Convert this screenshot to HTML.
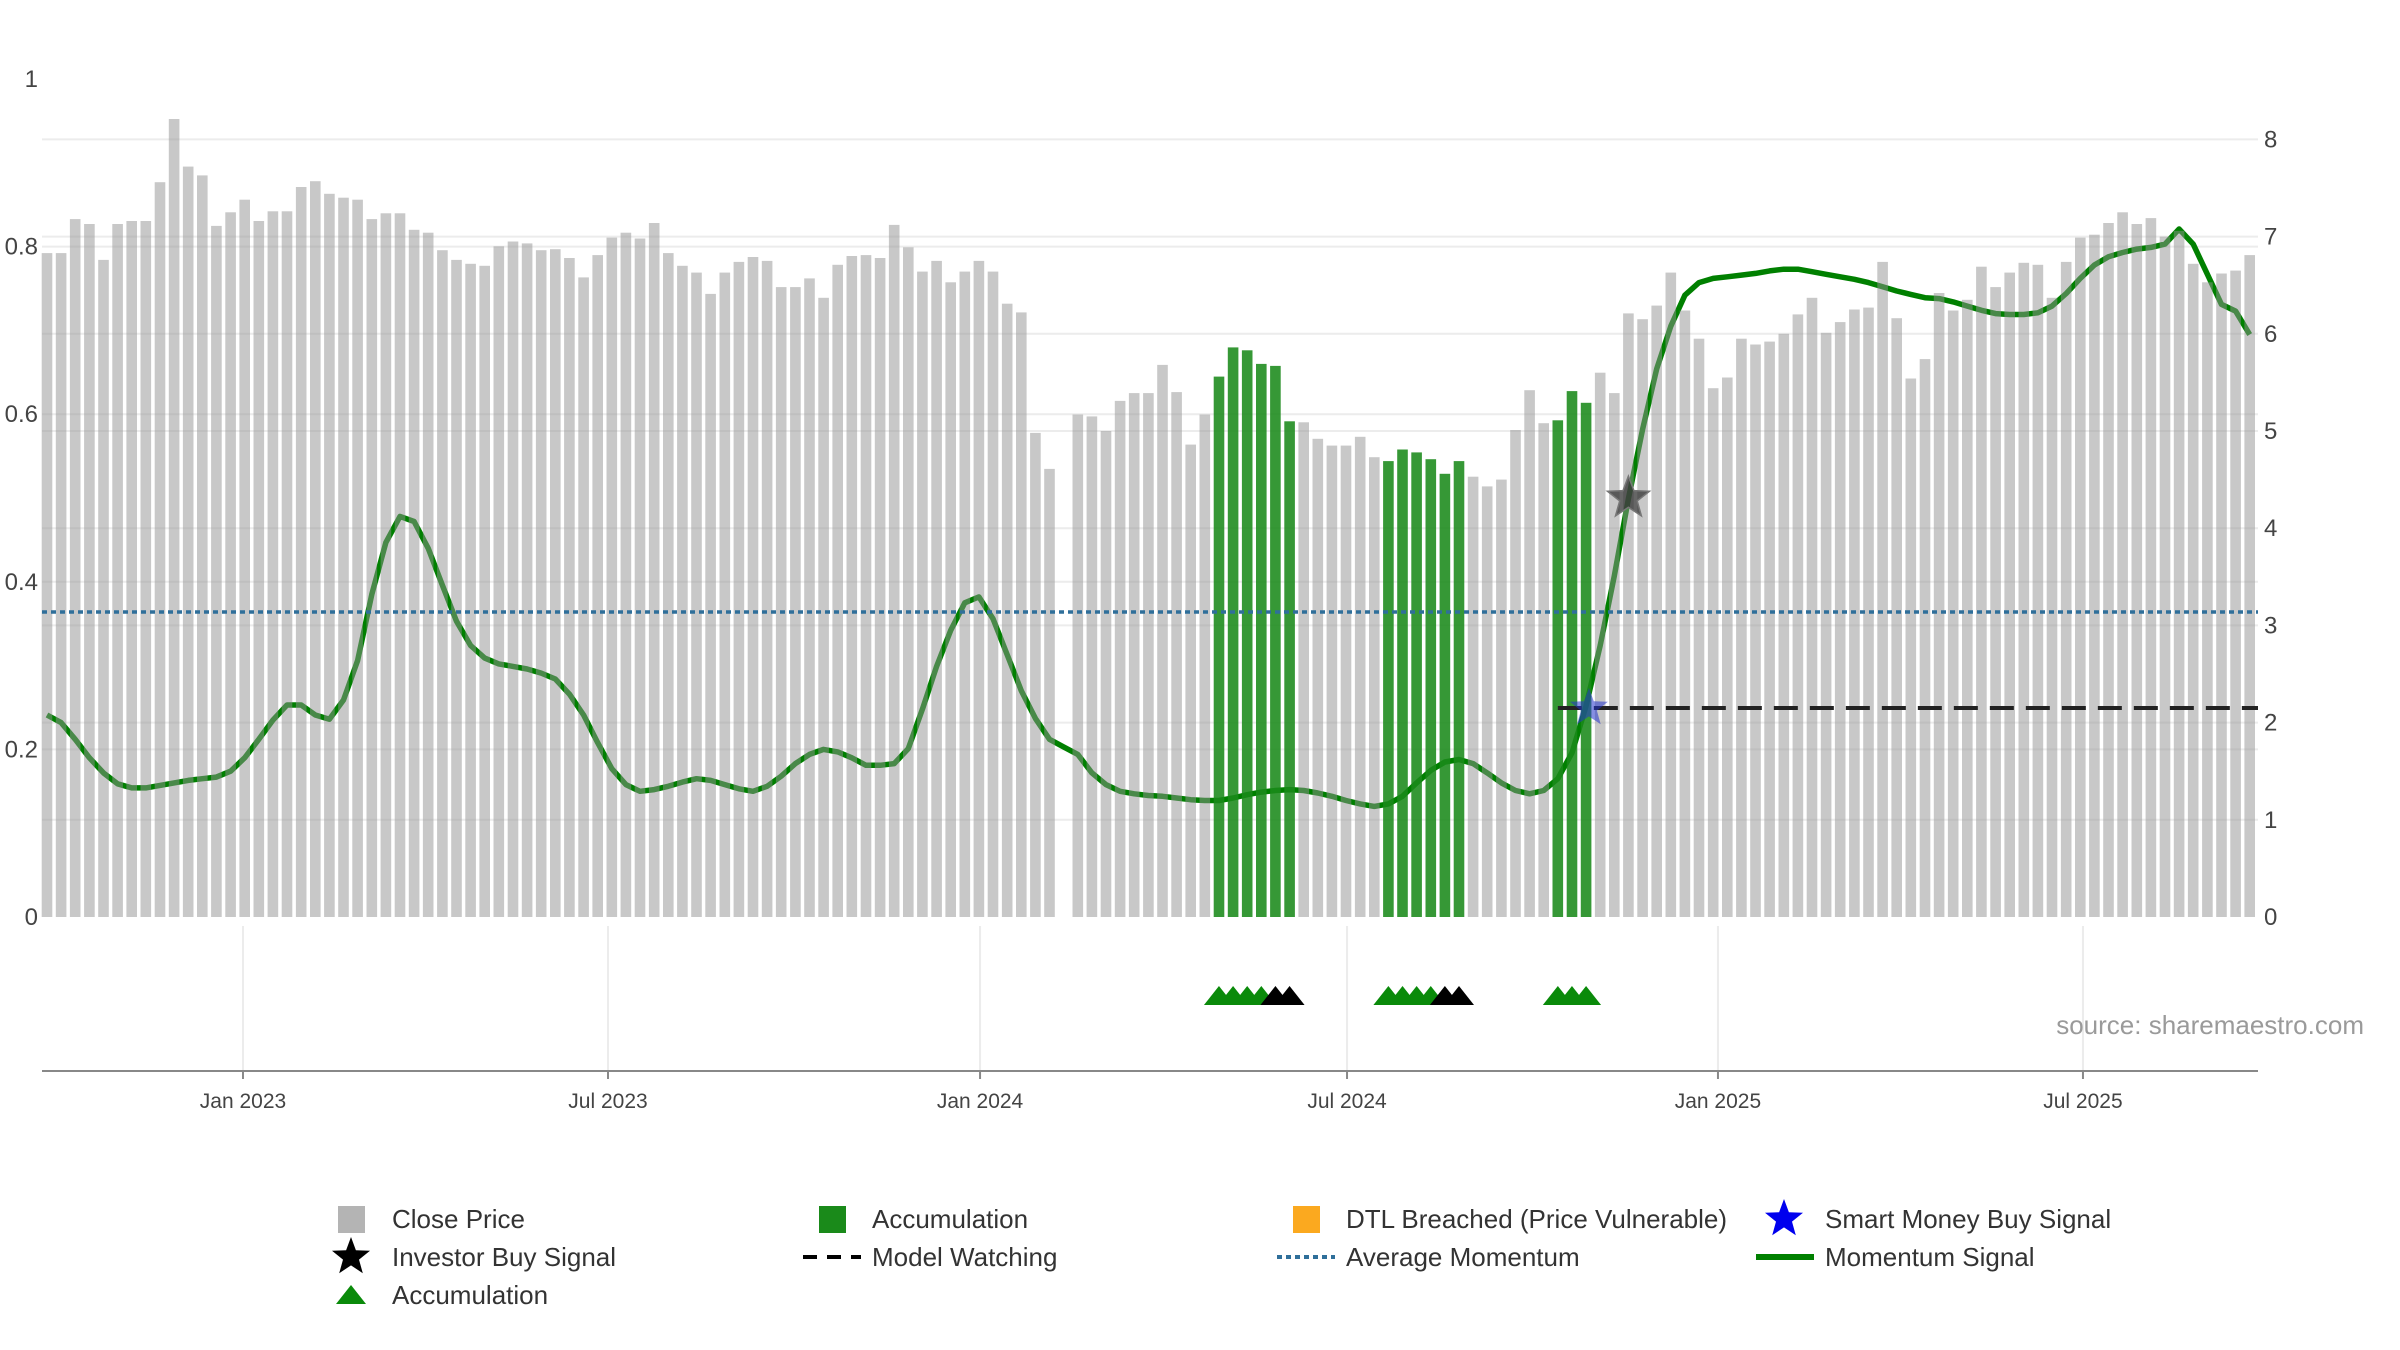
<!DOCTYPE html>
<html><head><meta charset="utf-8"><style>
html,body{margin:0;padding:0;background:#fff;}
svg{display:block;font-family:"Liberation Sans","DejaVu Sans",sans-serif;}
</style></head><body>
<svg id="chart" width="2400" height="1350" viewBox="0 0 2400 1350">
<g id="grid"></g>
<g id="momentum"></g>
<g id="bars"></g>
<g id="overlay"></g>
<g id="axes"></g>
<g id="signals"></g>
<text x="2364" y="1034" text-anchor="end" font-size="26" fill="#9a9a9a">source: sharemaestro.com</text>
<g id="legend" font-size="26" fill="#333">
  <g><rect x="338" y="1206" width="27" height="27" fill="#b4b4b4"/><text x="392" y="1228">Close Price</text></g>
  <g><rect x="819" y="1206" width="27" height="27" fill="#1a8a1a"/><text x="872" y="1228">Accumulation</text></g>
  <g><rect x="1293" y="1206" width="27" height="27" fill="#fba91f"/><text x="1346" y="1228">DTL Breached (Price Vulnerable)</text></g>
  <g><polygon id="lgstar1" fill="#0000ee"/><text x="1825" y="1228">Smart Money Buy Signal</text></g>
  <g><polygon id="lgstar2" fill="#000"/><text x="392" y="1266">Investor Buy Signal</text></g>
  <g><line x1="803" y1="1257" x2="861" y2="1257" stroke="#000" stroke-width="4" stroke-dasharray="14,10"/><text x="872" y="1266">Model Watching</text></g>
  <g><line x1="1277" y1="1257" x2="1335" y2="1257" stroke="#2f6f9a" stroke-width="4" stroke-dasharray="5,4"/><text x="1346" y="1266">Average Momentum</text></g>
  <g><line x1="1756" y1="1257" x2="1814" y2="1257" stroke="#008000" stroke-width="6"/><text x="1825" y="1266">Momentum Signal</text></g>
  <g><polygon points="336,1304 351,1285 366,1304" fill="#0a8a0a"/><text x="392" y="1304">Accumulation</text></g>
</g>
</svg>
<script>
const price = [6.83,6.83,7.18,7.13,6.76,7.13,7.16,7.16,7.56,8.21,
7.72,7.63,7.11,7.25,7.38,7.16,7.26,7.26,7.51,7.57,
7.44,7.40,7.38,7.18,7.24,7.24,7.07,7.04,6.86,6.76,
6.72,6.70,6.90,6.95,6.93,6.86,6.87,6.78,6.58,6.81,
6.99,7.04,6.98,7.14,6.83,6.70,6.63,6.41,6.63,6.74,
6.79,6.75,6.48,6.48,6.57,6.37,6.71,6.80,6.81,6.78,
7.12,6.89,6.64,6.75,6.53,6.64,6.75,6.64,
6.31,6.22,4.98,4.61,null,5.17,5.15,5.00,5.31,5.39,
5.39,5.68,5.40,4.86,5.17,5.56,5.86,5.83,5.69,5.67,
5.10,5.09,4.92,4.85,4.85,4.94,4.73,4.69,4.81,4.78,
4.71,4.56,4.69,4.53,4.43,4.50,5.01,5.42,5.08,5.11,
5.41,5.29,5.60,5.39,6.21,6.15,6.29,6.63,6.24,5.95,
5.44,5.55,5.95,5.89,5.92,6.00,6.20,6.37,6.01,6.12,
6.25,6.27,6.74,6.16,5.54,5.74,6.42,6.24,6.35,6.69,
6.48,6.63,6.73,6.71,6.37,6.74,6.99,7.02,7.14,7.25,
7.13,7.19,7.00,7.06,6.72,6.53,6.62,6.65,6.81];
const momentum = [0.241,0.232,0.212,0.190,0.172,0.159,0.154,0.154,0.157,0.160,
0.163,0.165,0.167,0.174,0.190,0.212,0.235,0.253,0.253,0.241,
0.236,0.259,0.306,0.385,0.447,0.478,0.472,0.440,0.396,0.353,
0.324,0.309,0.302,0.299,0.296,0.291,0.284,0.266,0.241,0.208,
0.177,0.158,0.150,0.152,0.156,0.161,0.165,0.163,0.158,0.153,
0.150,0.156,0.168,0.183,0.194,0.200,0.197,0.190,0.181,0.181,
0.183,0.201,0.248,0.299,0.342,0.375,0.382,0.356,0.313,0.270,
0.237,0.212,0.203,0.194,0.172,0.158,0.150,0.147,0.145,0.144,
0.142,0.140,0.139,0.139,0.142,0.146,0.149,0.151,0.152,0.151,
0.148,0.144,0.139,0.135,0.132,0.135,0.144,0.160,0.175,0.185,
0.188,0.183,0.172,0.160,0.151,0.147,0.151,0.165,0.196,0.252,
0.324,0.407,0.499,0.582,0.654,0.705,0.742,0.757,0.762,0.764,
0.766,0.768,0.771,0.773,0.773,0.770,0.767,0.764,0.761,0.757,
0.752,0.747,0.743,0.739,0.738,0.734,0.729,0.724,0.720,0.719,
0.719,0.721,0.729,0.744,0.762,0.778,0.788,0.793,0.797,0.799,
0.803,0.821,0.803,0.767,0.731,0.723,0.695];
const accumBars = [83,84,85,86,87,88,95,96,97,98,99,100,107,108,109];
const greenTriangles = [83,84,85,86,95,96,97,98,107,108,109];
const blackTriangles = [87,88,99,100];
const avgMomentum = 0.364;
const modelWatching = 2.15;
const modelWatchStart = 107;
const investorBuy = [[112, 4.31]];
const smartMoneyBuy = [[109.2, 2.15]];
const rightTicks = [0,1,2,3,4,5,6,7,8];
const leftTicks = [0,0.2,0.4,0.6,0.8,1];
const leftTickLabels = ["0","0.2","0.4","0.6","0.8","1"];
const xTickIdx = [13.88,39.73,66.08,92.07,118.34,144.19];
const xTickLabels = ["Jan 2023","Jul 2023","Jan 2024","Jul 2024","Jan 2025","Jul 2025"];

const NS="http://www.w3.org/2000/svg";
const X0=47, PITCH=14.12, PL=42, PR=2258, Y0=917;
const xOf=i=>X0+i*PITCH;
const yR=v=>Y0-v*97.2;
const yL=v=>Y0-v*838;
function mk(tag,attrs,parent){const e=document.createElementNS(NS,tag);for(const k in attrs)e.setAttribute(k,attrs[k]);parent.appendChild(e);return e;}
function starPts(cx,cy,R){const r=R*0.42;let p=[];for(let k=0;k<10;k++){const a=-Math.PI/2+k*Math.PI/5;const rr=k%2?r:R;p.push((cx+rr*Math.cos(a)).toFixed(1)+","+(cy+rr*Math.sin(a)).toFixed(1));}return p.join(" ");}

const grid=document.getElementById('grid');
rightTicks.forEach(t=>{if(t===0)return;const l=mk('line',{x1:PL,x2:PR,y1:yR(t),y2:yR(t),stroke:'#ececec','stroke-width':2},grid);

});
leftTicks.forEach(t=>{if(t===0||t===1)return;const l=mk('line',{x1:PL,x2:PR,y1:yL(t),y2:yL(t),stroke:'#ececec','stroke-width':2},grid);

});
xTickIdx.forEach(i=>{const l=mk('line',{x1:xOf(i),x2:xOf(i),y1:926,y2:1071,stroke:'#ececec','stroke-width':2},grid);

});

const mg=document.getElementById('momentum');
let d=momentum.map((v,i)=>(i?'L':'M')+xOf(i).toFixed(1)+' '+yL(v).toFixed(1)).join(' ');
const ml=mk('path',{d:d,fill:'none',stroke:'#008000','stroke-width':5.5,'stroke-linejoin':'round'},mg);



const bg=document.getElementById('bars');
price.forEach((v,i)=>{if(v==null)return;const acc=accumBars.includes(i);
const r=mk('rect',{x:(xOf(i)-5.3).toFixed(1),y:yR(v).toFixed(1),width:10.6,height:(Y0-yR(v)).toFixed(1),fill:acc?'#1a8a1a':'#929292','fill-opacity':acc?0.88:0.5},bg);

});

const og=document.getElementById('overlay');
const am=mk('line',{x1:PL,x2:PR,y1:yL(avgMomentum),y2:yL(avgMomentum),stroke:'#2f6f9a','stroke-width':3.5,'stroke-dasharray':'5,4'},og);


const mw=mk('line',{x1:xOf(modelWatchStart),x2:PR,y1:yR(modelWatching),y2:yR(modelWatching),stroke:'#222','stroke-width':4,'stroke-dasharray':'24,12'},og);



const sg=document.getElementById('signals');
investorBuy.forEach(([i,v])=>{const s=mk('polygon',{points:starPts(xOf(i),yR(v),22),fill:'#333','fill-opacity':0.75,stroke:'#777','stroke-width':1.5},sg);

});
smartMoneyBuy.forEach(([i,v])=>{const s=mk('polygon',{points:starPts(xOf(i),yR(v),20),fill:'#2233cc','fill-opacity':0.55},sg);

});
greenTriangles.forEach(i=>{const x=xOf(i);const t=mk('polygon',{points:`${x-15},1005 ${x},986 ${x+15},1005`,fill:'#0a8a0a'},sg);

});
blackTriangles.forEach(i=>{const x=xOf(i);const t=mk('polygon',{points:`${x-15},1005 ${x},986 ${x+15},1005`,fill:'#000'},sg);

});

const ag=document.getElementById('axes');
const ax=mk('line',{x1:PL,x2:PR,y1:1071,y2:1071,stroke:'#888','stroke-width':2},ag);


xTickIdx.forEach((i,k)=>{const t=mk('line',{x1:xOf(i),x2:xOf(i),y1:1071,y2:1079,stroke:'#888','stroke-width':2},ag);


const tx=mk('text',{x:xOf(i),y:1108,'text-anchor':'middle','font-size':21,fill:'#444'},ag);tx.textContent=xTickLabels[k];

});
leftTicks.forEach((t,k)=>{const tx=mk('text',{x:38,y:yL(t)+8,'text-anchor':'end','font-size':24,fill:'#444'},ag);tx.textContent=leftTickLabels[k];

});
rightTicks.forEach(t=>{const tx=mk('text',{x:2264,y:yR(t)+8,'font-size':24,fill:'#444'},ag);tx.textContent=String(t);

});

document.getElementById('lgstar1').setAttribute('points',starPts(1784,1219,20));
document.getElementById('lgstar2').setAttribute('points',starPts(351,1257,20));
</script>
</body></html>
